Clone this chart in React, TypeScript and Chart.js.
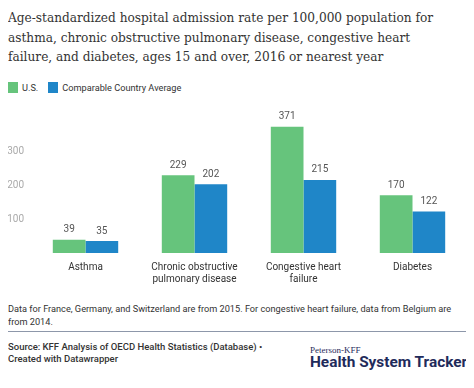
import React, { useEffect, useRef } from "react";
import { Chart, registerables } from "chart.js";

Chart.register(...registerables);

const categories: (string | string[])[] = [
  "Asthma",
  ["Chronic obstructive", "pulmonary disease"],
  ["Congestive heart", "failure"],
  "Diabetes",
];
const usValues = [39, 229, 371, 170];
const comparableValues = [35, 202, 215, 122];
const yTicks = [100, 200, 300];

const GREEN = "#66c47c";
const BLUE = "#1f86c8";
const SANS = "Roboto, 'Noto Sans', sans-serif";

const valueLabels = {
  id: "valueLabels",
  afterDatasetsDraw(chart: any) {
    const ctx = chart.ctx;
    ctx.save();
    ctx.font = `10px ${SANS}`;
    ctx.fillStyle = "#555555";
    ctx.textAlign = "center";
    ctx.textBaseline = "middle";
    chart.data.datasets.forEach((ds: any, di: number) => {
      const meta = chart.getDatasetMeta(di);
      meta.data.forEach((el: any, i: number) => {
        ctx.fillText(String(ds.data[i]), el.x, el.y - 10);
      });
    });
    ctx.restore();
  },
};

function BarChart() {
  const ref = useRef<HTMLCanvasElement | null>(null);
  useEffect(() => {
    if (!ref.current) return;
    const chart = new Chart(ref.current, {
      type: "bar",
      data: {
        labels: categories,
        datasets: [
          { label: "U.S.", data: usValues, backgroundColor: GREEN, borderWidth: 0 },
          { label: "Comparable Country Average", data: comparableValues, backgroundColor: BLUE, borderWidth: 0 },
        ],
      },
      options: {
        animation: false,
        responsive: false,
        maintainAspectRatio: false,
        layout: { padding: { top: 22, right: 7, left: 0, bottom: 0 } },
        datasets: { bar: { categoryPercentage: 0.6, barPercentage: 1.0 } },
        plugins: {
          legend: { display: false },
          tooltip: { enabled: false },
          title: { display: false },
        },
        scales: {
          x: {
            grid: { display: false, drawTicks: false },
            border: { display: false },
            ticks: {
              color: "#333333",
              font: { family: SANS, size: 10 },
              padding: 8,
              maxRotation: 0,
              autoSkip: false,
            },
            afterFit(scale: any) {
              scale.height = 39;
            },
          },
          y: {
            min: 0,
            max: 400,
            grid: { display: false, drawTicks: false },
            border: { display: false },
            ticks: {
              stepSize: 100,
              color: "#aaaaaa",
              font: { family: SANS, size: 10 },
              padding: 7,
              callback: (v: any) => (yTicks.includes(Number(v)) ? String(v) : ""),
            },
            afterFit(scale: any) {
              scale.width = 31;
            },
          },
        },
      },
      plugins: [valueLabels],
    });
    return () => chart.destroy();
  }, []);
  return (
    <canvas
      ref={ref}
      width={474}
      height={197}
      style={{ position: "absolute", left: -8, top: 87, width: 474, height: 197 }}
    />
  );
}

export default function App() {
  return (
    <div style={{ position: "relative", width: 458, height: 372, fontFamily: SANS, color: "#333" }}>
      <div
        style={{
          position: "absolute",
          left: 0,
          top: 0,
          width: 470,
          fontFamily: "'DejaVu Serif Condensed', 'DejaVu Serif', serif",
          fontStretch: "condensed",
          fontSize: 13.5,
          lineHeight: "19.5px",
          color: "#333333",
          whiteSpace: "nowrap",
        }}
      >
        Age-standardized hospital admission rate per 100,000 population for
        <br />
        asthma, chronic obstructive pulmonary disease, congestive heart
        <br />
        failure, and diabetes, ages 15 and over, 2016 or nearest year
      </div>
      <div
        style={{
          position: "absolute",
          left: 0,
          top: 73,
          height: 12,
          display: "flex",
          alignItems: "center",
          fontSize: 9.2,
          color: "#333333",
        }}
      >
        <span style={{ display: "inline-block", width: 10, height: 11, background: GREEN, marginRight: 4 }} />
        <span style={{ marginRight: 10 }}>U.S.</span>
        <span style={{ display: "inline-block", width: 10, height: 11, background: BLUE, marginRight: 4 }} />
        <span>Comparable Country Average</span>
      </div>
      <BarChart />
      <div
        style={{
          position: "absolute",
          left: 0,
          top: 293.5,
          width: 462,
          fontSize: 9.2,
          lineHeight: "13px",
          color: "#333333",
          whiteSpace: "nowrap",
        }}
      >
        Data for France, Germany, and Switzerland are from 2015. For congestive heart failure, data from Belgium are
        <br />
        from 2014.
      </div>
      <div style={{ position: "absolute", left: 0, top: 323, width: 458, height: 1, background: "#8d97aa" }} />
      <div
        style={{
          position: "absolute",
          left: 0,
          top: 333,
          fontSize: 9.5,
          lineHeight: "12px",
          fontWeight: 500,
          color: "#333333",
        }}
      >
        Source: KFF Analysis of OECD Health Statistics (Database) •
        <br />
        Created with Datawrapper
      </div>
      <div
        style={{
          position: "absolute",
          left: 302,
          top: 337,
          fontFamily: "'Liberation Serif', serif",
          fontSize: 9,
          lineHeight: "10px",
          color: "#1f2b5b",
        }}
      >
        Peterson-KFF
      </div>
      <div
        style={{
          position: "absolute",
          left: 302,
          top: 345,
          fontSize: 15.4,
          lineHeight: "18px",
          fontWeight: 700,
          color: "#1f2b5b",
          whiteSpace: "nowrap",
        }}
      >
        Health System Tracker
      </div>
    </div>
  );
}
